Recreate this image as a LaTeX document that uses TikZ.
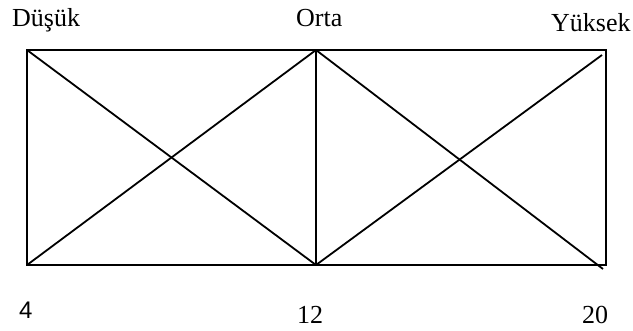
\documentclass[tikz,border=0pt]{standalone}
\usepackage{fontspec}
\setmainfont{Liberation Serif}
\newfontfamily\sansdigits{Liberation Sans}
\begin{document}
\begin{tikzpicture}[x=1pt,y=-1pt,
  edge/.style={line width=1.8pt,black},
  lbl/.style={inner sep=0pt,anchor=base west,font=\fontsize{26}{30}\selectfont},
  slbl/.style={inner sep=0pt,anchor=base west,font={\fontsize{24}{28}\sansdigits}}]
\useasboundingbox (0,0) rectangle (633,330);
\coordinate (tl) at (27,50);
\coordinate (tm) at (316,50);
\coordinate (tr) at (606,50);
\coordinate (bl) at (27,265);
\coordinate (bm) at (316,265);
\coordinate (br) at (606,265);
\coordinate (d1) at (603,269);
\coordinate (d2) at (602,55);
\draw[edge] (tl) -- (tr) -- (br) -- (bl) -- cycle;
\draw[edge] (tm) -- (bm);
\draw[edge] (tl) -- (bm);
\draw[edge] (bl) -- (tm);
\draw[edge] (tm) -- (d1);
\draw[edge] (bm) -- (d2);
\node[lbl] (low) at (12,26) {Düşük};
\node[lbl] (mid) at (296,26) {Orta};
\node[lbl] (high) at (551,31) {Yüksek};
\node[slbl] (n4) at (19,318) {4};
\node[lbl] (n12) at (297,323) {12};
\node[lbl] (n20) at (582,323) {20};
\end{tikzpicture}
\end{document}
